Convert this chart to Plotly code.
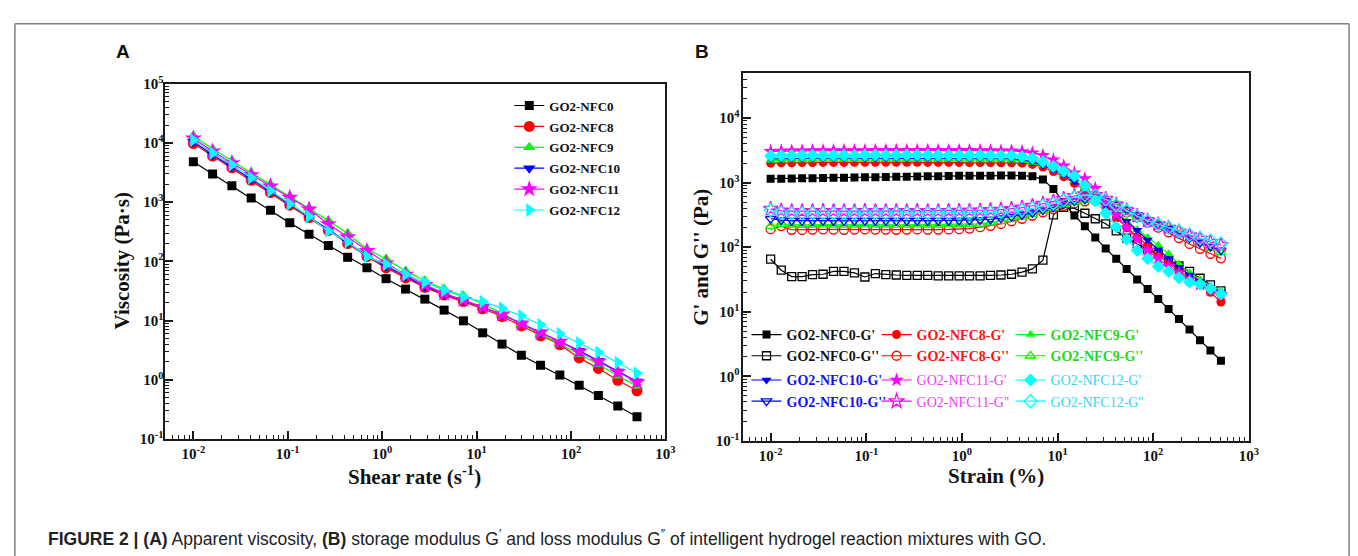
import plotly.graph_objects as go

W, H = 1358, 556
def fx(p): return p / W
def fy(p): return 1 - p / H

# ---------------- Panel A data: viscosity vs shear rate ----------------
shear_rate = [0.01, 0.016, 0.0256, 0.041, 0.0656, 0.105, 0.168, 0.269, 0.431, 0.69,
              1.1, 1.77, 2.83, 4.53, 7.26, 11.6, 18.6, 29.8, 47.6, 76.2, 122, 195, 313, 500]
visc_nfc0 = [4840, 3000, 1890, 1180, 730, 447, 288, 186, 117, 78, 51, 34, 23, 15, 9.9, 6.2,
             4.0, 2.6, 1.76, 1.2, 0.81, 0.54, 0.36, 0.237]
visc_nfc8 = [9770, 6030, 3800, 2340, 1450, 890, 550, 331, 200, 120, 77.6, 52.5, 36.3, 26.9,
             20.9, 15.8, 11.7, 8.1, 5.5, 3.9, 2.34, 1.55, 0.98, 0.65]
visc_nfc9 = [13200, 7940, 5010, 3160, 2000, 1260, 794, 490, 295, 162, 110, 69, 47, 34, 26.3,
             19.1, 13.2, 8.7, 5.9, 4.0, 2.7, 1.82, 1.17, 0.78]
visc_nfc10 = [10500, 6310, 3980, 2450, 1510, 933, 575, 347, 209, 126, 83, 56, 38, 28.2, 21.9,
              16.6, 12.6, 8.9, 6.3, 4.4, 3.1, 2.1, 1.38, 0.93]
visc_nfc11 = [12000, 7240, 4570, 2880, 1860, 1200, 759, 427, 257, 151, 93, 60, 40, 28.8, 22.4,
              17, 12.6, 8.9, 6.3, 4.4, 3.0, 2.04, 1.35, 0.91]
visc_nfc12 = [11200, 6760, 4270, 2570, 1550, 933, 575, 324, 214, 120, 89, 60, 44.7, 32.4, 25.1,
              20.9, 16.2, 12.0, 8.5, 6.0, 4.2, 2.9, 1.95, 1.29]

# ---------------- Panel B data: G' and G'' vs strain ----------------
strain = [0.01, 0.0129, 0.0166, 0.0213, 0.0274, 0.0353, 0.0454, 0.0584, 0.0752, 0.0967,
          0.1245, 0.16, 0.206, 0.265, 0.341, 0.439, 0.565, 0.727, 0.935, 1.2,
          1.55, 1.99, 2.56, 3.3, 4.25, 5.46, 7.03, 9.05, 11.6, 15,
          19.3, 24.8, 31.9, 41.1, 52.8, 68, 87.5, 113, 145, 186, 240, 309, 397, 511]

gp_nfc0 = [1150, 1150, 1160, 1170, 1170, 1180, 1190, 1190, 1200, 1210, 1210, 1220, 1230, 1230,
           1240, 1250, 1250, 1260, 1270, 1270, 1280, 1280, 1290, 1290, 1280, 1250,
           1120, 794, 500, 309, 211, 141, 95, 66, 46, 31.6, 22.4, 15.8, 11.0, 7.7, 5.3, 3.6, 2.5, 1.74]
gpp_nfc0 = [65, 44, 35, 35, 37.5, 38, 42, 42, 40, 34.5,
            39, 37.5, 37, 36.5, 36.5, 36.5, 36, 36, 36, 36,
            36, 36.5, 37, 38, 41, 46,
            63, 316, 412, 398, 335, 275, 230, 178, 138, 112, 93, 78, 63, 51, 42, 33, 26, 21]

gp_nfc8 = [2000, 2020, 2030, 2040, 2040, 2050, 2050, 2050, 2060, 2060, 2060, 2060, 2060, 2060,
           2060, 2050, 2050, 2050, 2050, 2040, 2040, 2040, 2030,
           2020, 2000, 1910, 1740, 1480, 1230, 977, 759, 562, 398, 282, 200, 145, 106, 75, 56, 42,
           34, 26.6, 20, 14.1]
gpp_nfc8 = [190, 212, 186, 185, 187, 188, 187, 186, 187, 188, 187, 187, 186, 187, 188, 187, 187,
            188, 190, 194,
            204, 214, 229, 251, 275, 309, 347, 389, 437, 479, 513, 525, 490, 417, 347, 288, 240,
            200, 170, 138, 112, 94, 79, 67]

gp_nfc9 = [2200, 2220, 2230, 2240, 2240, 2250, 2250, 2250, 2260, 2260, 2260, 2260, 2260, 2260,
           2260, 2260, 2250, 2250, 2250, 2240, 2240, 2240, 2230,
           2220, 2190, 2040, 1860, 1620, 1350, 1070, 851, 631, 468, 339, 251, 186, 141, 107, 79,
           55, 40, 31.6, 25.1, 21.1]
gpp_nfc9 = [212, 228, 222, 220, 222, 223, 222, 221, 222, 223, 222, 222, 221, 222, 223, 222, 222,
            223, 224, 226,
            229, 240, 251, 269, 295, 324, 363, 407, 457, 501, 537, 550, 513, 447, 372, 309, 257,
            219, 186, 158, 135, 115, 98, 83]

gp_nfc10 = [2330, 2350, 2360, 2370, 2370, 2380, 2380, 2380, 2390, 2390, 2390, 2390, 2390, 2390,
            2390, 2390, 2380, 2380, 2380, 2370, 2370, 2360, 2350,
            2340, 2240, 2090, 1860, 1580, 1320, 1050, 813, 603, 437, 324, 251, 182, 129, 91, 66,
            49, 37, 29.5, 24, 20]
gpp_nfc10 = [275, 262, 258, 256, 257, 258, 257, 256, 257, 258, 257, 257, 256, 257, 258, 257, 257,
             258, 259, 260,
             263, 269, 282, 295, 316, 339, 372, 417, 468, 513, 550, 562, 525, 457, 380, 316, 263,
             224, 191, 162, 138, 117, 102, 89]

gp_nfc11 = [3050, 3080, 3100, 3100, 3120, 3120, 3120, 3130, 3130, 3130, 3140, 3140, 3140, 3150,
            3150, 3150, 3150, 3150, 3140, 3140, 3130, 3120, 3100,
            3090, 3020, 2880, 2630, 2240, 1820, 1410, 1150, 813, 501, 316, 200, 132, 89, 66, 50,
            40, 31.6, 26.3, 21.9, 18.6]
gpp_nfc11 = [392, 368, 362, 360, 362, 363, 362, 361, 362, 363, 362, 362, 361, 362, 363, 362, 362,
             363, 364, 365,
             368, 374, 380, 390, 410, 437, 470, 510, 560, 620, 660, 640, 560, 455, 372, 305, 258,
             225, 200, 175, 152, 135, 120, 108]

gp_nfc12 = [2600, 2620, 2630, 2640, 2650, 2650, 2660, 2660, 2660, 2670, 2670, 2670, 2670, 2670,
            2670, 2670, 2660, 2660, 2650, 2650, 2640, 2630, 2620,
            2630, 2510, 2370, 2110, 1780, 1500, 1260, 900, 520, 335, 205, 133, 89, 66, 50, 42,
            33.5, 28.8, 26.6, 22.9, 18.8]
gpp_nfc12 = [376, 340, 335, 333, 335, 336, 335, 334, 335, 336, 335, 335, 334, 335, 336, 335, 335,
             336, 337, 338,
             339, 347, 351, 355, 376, 398, 437, 473, 531, 596, 646, 631, 550, 447, 367, 302, 257,
             226, 202, 178, 155, 138, 126, 114]

names_A = ["GO2-NFC0", "GO2-NFC8", "GO2-NFC9", "GO2-NFC10", "GO2-NFC11", "GO2-NFC12"]
visc_all = [visc_nfc0, visc_nfc8, visc_nfc9, visc_nfc10, visc_nfc11, visc_nfc12]
gp_all = [gp_nfc0, gp_nfc8, gp_nfc9, gp_nfc10, gp_nfc11, gp_nfc12]
gpp_all = [gpp_nfc0, gpp_nfc8, gpp_nfc9, gpp_nfc10, gpp_nfc11, gpp_nfc12]

x_ticks = [0.01, 0.1, 1, 10, 100, 1000]
x_ticktext = ["10<sup>-2</sup>", "10<sup>-1</sup>", "10<sup>0</sup>", "10<sup>1</sup>",
              "10<sup>2</sup>", "10<sup>3</sup>"]
yA_ticks = [0.1, 1, 10, 100, 1000, 10000, 100000]
yA_ticktext = ["10<sup>-1</sup>", "10<sup>0</sup>", "10<sup>1</sup>", "10<sup>2</sup>",
               "10<sup>3</sup>", "10<sup>4</sup>", "10<sup>5</sup>"]
yB_ticks = [0.1, 1, 10, 100, 1000, 10000]
yB_ticktext = ["10<sup>-1</sup>", "10<sup>0</sup>", "10<sup>1</sup>", "10<sup>2</sup>",
               "10<sup>3</sup>", "10<sup>4</sup>"]

# ---------------- styles ----------------
line_colors = ["#000000", "#FF0000", "#00FF00", "#0000FF", "#FF00FF", "#00FFFF"]
text_colors = ["#111111", "#FF1010", "#20D820", "#1010F0", "#F040F0", "#40D0F0"]
text_weights = ["bold", "bold", "bold", "bold", "normal", "normal"]
sym_A = ["square", "circle", "triangle-up", "triangle-down", "star", "triangle-right"]
size_A = [9, 11, 11, 11, 13, 12]
sym_B = ["square", "circle", "triangle-up", "triangle-down", "star", "diamond"]
size_B = [8, 9, 9, 9, 11, 10]

SERIF = "Liberation Serif, Times New Roman, serif"
SANS = "Liberation Sans, Arial, sans-serif"

fig = go.Figure()

for i in range(6):
    fig.add_trace(go.Scatter(
        x=shear_rate, y=visc_all[i], name=names_A[i], mode="lines+markers",
        xaxis="x", yaxis="y", legend="legend", legendgroup="A%d" % i,
        line=dict(color=line_colors[i], width=1.2),
        marker=dict(symbol=sym_A[i], size=size_A[i], color=line_colors[i], line=dict(width=0)),
    ))

for i in range(6):
    leg = "legend%d" % (i + 2)
    fig.add_trace(go.Scatter(
        x=strain, y=gp_all[i], name=names_A[i] + "-G'", mode="lines+markers",
        xaxis="x2", yaxis="y2", legend=leg,
        line=dict(color=line_colors[i], width=1.2),
        marker=dict(symbol=sym_B[i], size=size_B[i], color=line_colors[i], line=dict(width=0)),
    ))
    fig.add_trace(go.Scatter(
        x=strain, y=gpp_all[i], name=names_A[i] + "-G''", mode="lines+markers",
        xaxis="x2", yaxis="y2", legend=leg,
        line=dict(color=line_colors[i], width=1.2),
        marker=dict(symbol=sym_B[i] + "-open", size=size_B[i], color=line_colors[i],
                    line=dict(width=1.3, color=line_colors[i])),
    ))

minor_vals = [m * 10 ** e for e in range(-3, 6) for m in range(2, 10)]
tickfont = dict(family=SERIF, size=15, color="#111111", weight="bold")

def axis_common(tickvals, ticktext, rng, domain, anchor, standoff):
    return dict(
        type="log", range=rng, domain=domain, anchor=anchor,
        showline=True, linecolor="#1a1a1a", linewidth=2, mirror=True,
        showgrid=False, zeroline=False,
        ticks="inside", ticklen=8, tickwidth=1.5, tickcolor="#1a1a1a",
        tickmode="array", tickvals=tickvals, ticktext=ticktext, tickfont=tickfont,
        ticklabelstandoff=standoff,
        minor=dict(ticks="inside", ticklen=4, tickwidth=1.2, tickcolor="#1a1a1a",
                   tickmode="array", tickvals=minor_vals, showgrid=False),
    )

fig.update_layout(
    width=W, height=H,
    margin=dict(l=0, r=0, t=0, b=0),
    paper_bgcolor="white", plot_bgcolor="white",
    xaxis=axis_common(x_ticks, x_ticktext, [-2.305, 3], [fx(157.7), fx(662.3)], "y", 0),
    yaxis=axis_common(yA_ticks, yA_ticktext, [-1, 5], [fy(435), fy(68)], "x", -4),
    xaxis2=axis_common(x_ticks, x_ticktext, [-2.294, 3], [fx(740), fx(1250)], "y2", 0),
    yaxis2=axis_common(yB_ticks, yB_ticktext, [-1, 4.69], [fy(437), fy(57.3)], "x2", -2),
    legend=dict(x=fx(505), y=fy(75), xanchor="left", yanchor="top",
                bgcolor="rgba(0,0,0,0)", traceorder="grouped", tracegroupgap=1,
                font=dict(family=SERIF, size=13, color="#111111", weight="bold")),
    showlegend=True,
)

# B legends: one per sample (G' and G'' rows), arranged 3 columns x 2 blocks
leg_pos = [(744, 311), (875, 311), (1010, 311), (744, 358), (875, 358), (1010, 358)]
for i in range(6):
    px, py = leg_pos[i]
    fig.update_layout(**{"legend%d" % (i + 2): dict(
        x=fx(px), y=fy(py), xanchor="left", yanchor="top", bgcolor="rgba(0,0,0,0)",
        font=dict(family=SERIF, size=14, color=text_colors[i], weight=text_weights[i]),
    )})

annotations = [
    dict(text="Viscosity (Pa·s)", x=fx(115), y=fy(251.5), textangle=-90,
         font=dict(family=SERIF, size=21, color="#111111", weight="bold")),
    dict(text="Shear rate (s<sup>-1</sup>)", x=fx(410), y=fy(473),
         font=dict(family=SERIF, size=21, color="#111111", weight="bold")),
    dict(text="G' and G'' (Pa)", x=fx(698), y=fy(247), textangle=-90,
         font=dict(family=SERIF, size=21, color="#111111", weight="bold")),
    dict(text="Strain (%)", x=fx(995), y=fy(473),
         font=dict(family=SERIF, size=21, color="#111111", weight="bold")),
    dict(text="A", x=fx(115.5), y=fy(35),
         font=dict(family=SANS, size=19, color="#111111", weight="bold")),
    dict(text="B", x=fx(699), y=fy(35),
         font=dict(family=SANS, size=19, color="#111111", weight="bold")),
    dict(text="<b>FIGURE 2 | (A)</b> Apparent viscosity, <b>(B)</b> storage modulus G<sup>′</sup> and "
              "loss modulus G<sup>″</sup> of intelligent hydrogel reaction mixtures with GO.",
         x=fx(38), y=fy(537), xanchor="left",
         font=dict(family=SANS, size=17.5, color="#222222")),
]
for a in annotations:
    a.setdefault("xanchor", "center")
    a.update(xref="paper", yref="paper", yanchor="middle", showarrow=False)
fig.update_layout(annotations=annotations)

frame = dict(color="#808080", width=1.5)
fig.update_layout(shapes=[
    dict(type="line", xref="paper", yref="paper", x0=fx(7), x1=fx(7), y0=0, y1=fy(6), line=frame),
    dict(type="line", xref="paper", yref="paper", x0=fx(7), x1=fx(1351), y0=fy(6), y1=fy(6), line=frame),
    dict(type="line", xref="paper", yref="paper", x0=fx(1351), x1=fx(1351), y0=0, y1=fy(6), line=frame),
])

fig.write_html("out.html")
